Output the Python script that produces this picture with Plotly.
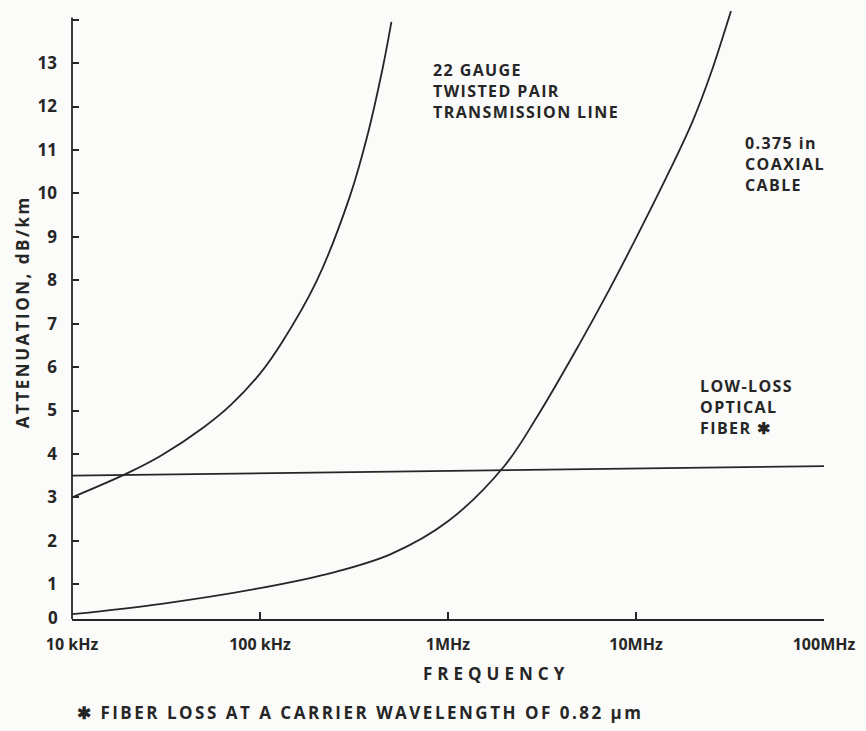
import plotly.graph_objects as go

# ---- data (frequency in Hz, attenuation in dB/km) ----
tp_freq = [1e4, 2e4, 3e4, 5e4, 7e4, 1e5, 1.3e5, 2e5, 3e5, 3.7e5, 4.5e5, 5e5]
tp_att = [3.0, 3.57, 3.97, 4.61, 5.13, 5.85, 6.55, 7.98, 9.92, 11.28, 12.9, 13.95]

coax_freq = [1e4, 3e4, 1e5, 2.5e5, 5e5, 1e6, 2e6, 3e6, 5e6, 7e6, 1e7, 1.5e7, 2e7, 2.5e7, 3.2e7]
coax_att = [0.31, 0.55, 0.91, 1.28, 1.70, 2.45, 3.73, 4.88, 6.53, 7.68, 8.97, 10.5, 11.66, 12.76, 14.2]

fiber_freq = [1e4, 1e8]
fiber_att = [3.5, 3.72]

x_tickvals = [1e4, 1e5, 1e6, 1e7, 1e8]
x_ticktext = ["10 kHz", "100 kHz", "1MHz", "10MHz", "100MHz"]
y_tickvals = list(range(1, 15))
y_ticktext = [str(v) for v in range(1, 14)] + [""]

W, H = 866, 731
L, R, T, B = 72, 40, 11, 112
INK = "#262626"
FONT = "Open Sans"
Y_MIN, Y_MAX, Y_AXIS_TOP = 0.2, 14.2, 14.05


def px(x):
    return (x - L) / (W - L - R)


def py(y):
    return (H - B - y) / (H - T - B)


def spaced(txt, sp):
    return "<br>".join(f'<span style="letter-spacing:{sp}px">{t}</span>' for t in txt.split("<br>"))


fig = go.Figure()
line_style = dict(color=INK, width=1.8, shape="spline", smoothing=1.0)
fig.add_trace(go.Scatter(x=tp_freq, y=tp_att, mode="lines", line=line_style))
fig.add_trace(go.Scatter(x=coax_freq, y=coax_att, mode="lines", line=line_style))
fig.add_trace(go.Scatter(x=fiber_freq, y=fiber_att, mode="lines",
                         line=dict(color=INK, width=1.8)))

lab_font = dict(family=FONT, size=16, color=INK, weight="bold")
anns = [
    dict(x=px(432), y=py(57), text="22 GAUGE<br>TWISTED PAIR<br>TRANSMISSION LINE"),
    dict(x=px(745), y=py(130), text="0.375 in<br>COAXIAL<br>CABLE"),
    dict(x=px(700), y=py(373), text="LOW-LOSS<br>OPTICAL<br>FIBER ✱"),
]
annotations = []
for a in anns:
    annotations.append(dict(xref="paper", yref="paper", x=a["x"], y=a["y"], text=spaced(a["text"], 1.4),
                            xanchor="left", yanchor="top", align="left", showarrow=False,
                            font=lab_font))
annotations += [
    dict(xref="paper", yref="paper", x=px(422), y=py(673), text=spaced("FREQUENCY", 5),
         xanchor="left", yanchor="middle", showarrow=False, font=dict(lab_font, size=17)),
    dict(xref="paper", yref="paper", x=px(75), y=py(712),
         text=spaced("✱ FIBER LOSS AT A CARRIER WAVELENGTH OF 0.82 μm", 2.5),
         xanchor="left", yanchor="middle", showarrow=False, font=dict(lab_font, size=17)),
    dict(xref="paper", yref="paper", x=px(22), y=py(312), text=spaced("ATTENUATION, dB/km", 2.5),
         textangle=-90, xanchor="center", yanchor="middle", showarrow=False, font=dict(lab_font, size=17)),
    dict(xref="paper", yref="paper", x=px(60), y=py(617), text="0",
         xanchor="right", yanchor="middle", showarrow=False, font=dict(lab_font, size=17)),
]

fig.update_layout(
    width=W, height=H,
    margin=dict(l=L, r=R, t=T, b=B),
    paper_bgcolor="#fbfbf9", plot_bgcolor="#fbfbf9",
    showlegend=False,
    annotations=annotations,
    shapes=[dict(type="line", xref="paper", yref="y", x0=0, x1=0, y0=Y_MIN, y1=Y_AXIS_TOP,
                 line=dict(color=INK, width=1.8))],
    font=dict(family=FONT, color=INK),
)
fig.update_xaxes(type="log", range=[4, 8], tickvals=x_tickvals, ticktext=x_ticktext,
                 showgrid=False, zeroline=False, showline=True, linecolor=INK, linewidth=1.8,
                 ticks="inside", ticklen=7, tickwidth=1.5, tickcolor=INK,
                 tickfont=dict(family=FONT, size=16, color=INK, weight="bold"),
                 ticklabelstandoff=10)
fig.update_yaxes(range=[Y_MIN, Y_MAX], tickvals=y_tickvals, ticktext=y_ticktext,
                 showgrid=False, zeroline=False, showline=False,
                 ticks="inside", ticklen=7, tickwidth=1.5, tickcolor=INK,
                 tickfont=dict(family=FONT, size=17, color=INK, weight="bold"),
                 ticklabelstandoff=14)

fig.write_html("out.html")
